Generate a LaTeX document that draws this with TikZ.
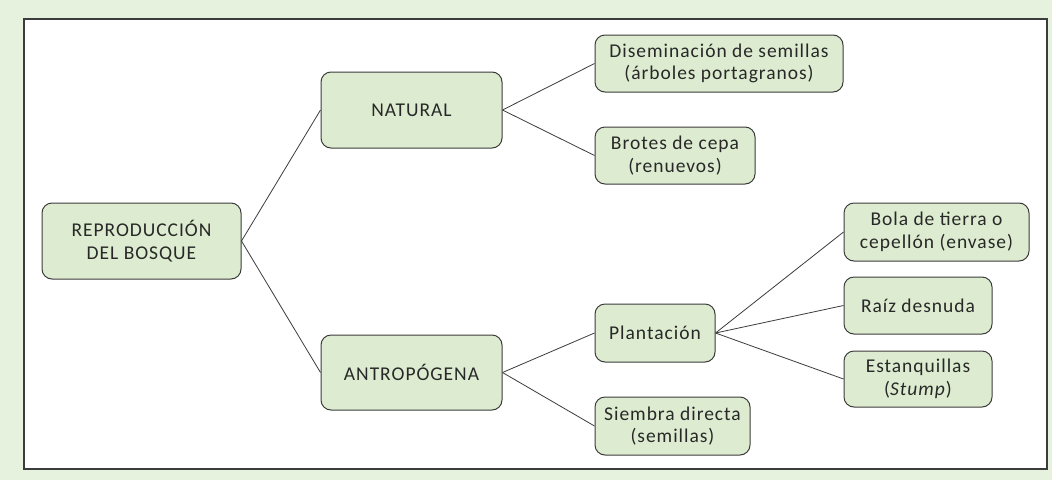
\documentclass[tikz,border=0pt]{standalone}
\usepackage{fontspec}
\setmainfont{Carlito}[LetterSpace=5]
\definecolor{outerbg}{RGB}{230,242,222}
\definecolor{boxfill}{RGB}{221,236,208}
\definecolor{boxline}{RGB}{60,60,60}
\definecolor{txt}{RGB}{40,40,40}
\begin{document}
\begin{tikzpicture}[x=1pt,y=-1pt,
  box/.style={draw=boxline, line width=1pt, fill=boxfill, rounded corners=10pt,
    align=center, inner sep=0pt, text=txt, font=\fontsize{19.5}{22.5}\selectfont},
  link/.style={draw=boxline, line width=0.8pt}]
\fill[outerbg] (0,0) rectangle (1052,480);
\useasboundingbox (0,0) rectangle (1052,480);
\draw[fill=white, draw=boxline, line width=1.2pt] (24,19) rectangle (1047,469);
\node[box, minimum width=199pt, minimum height=76pt] (root) at (141.5,241) {REPRODUCCIÓN\\DEL BOSQUE};
\node[box, minimum width=181pt, minimum height=76pt] (nat) at (411.5,110) {NATURAL};
\node[box, minimum width=181pt, minimum height=75pt] (ant) at (411.5,372.5) {ANTROPÓGENA};
\node[box, minimum width=248pt, minimum height=57pt] (dis) at (719,63.5) {Diseminación de semillas\\(árboles portagranos)};
\node[box, minimum width=160pt, minimum height=57pt] (bro) at (675,155.5) {Brotes de cepa\\(renuevos)};
\node[box, minimum width=120pt, minimum height=58pt] (pla) at (655,333) {Plantación};
\node[box, minimum width=155pt, minimum height=58pt] (sie) at (672.5,426) {Siembra directa\\(semillas)};
\node[box, minimum width=185pt, minimum height=58pt] (bol) at (936.5,232) {Bola de tierra o\\cepellón (envase)};
\node[box, minimum width=148pt, minimum height=57pt] (rai) at (918,305.5) {Raíz desnuda};
\node[box, minimum width=148pt, minimum height=56pt] (est) at (918,379) {Estanquillas\\(\textit{Stump})};
\draw[link] (root.east) -- (nat.west);
\draw[link] (root.east) -- (ant.west);
\draw[link] (nat.east) -- (dis.west);
\draw[link] (nat.east) -- (bro.west);
\draw[link] (ant.east) -- (pla.west);
\draw[link] (ant.east) -- (sie.west);
\draw[link] (pla.east) -- (bol.west);
\draw[link] (pla.east) -- (rai.west);
\draw[link] (pla.east) -- (est.west);
\end{tikzpicture}
\end{document}
